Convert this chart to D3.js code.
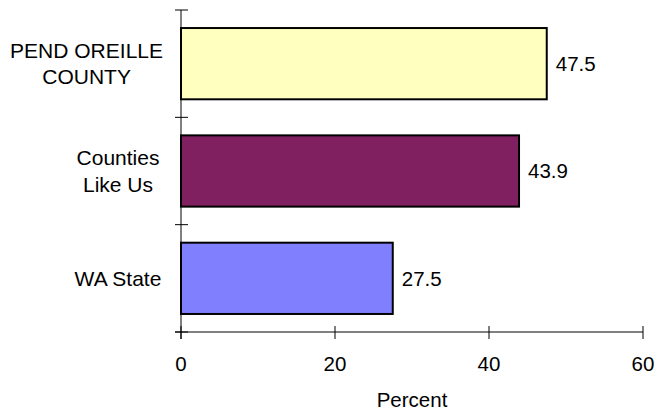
<!DOCTYPE html>
<html><head><meta charset="utf-8">
<script src="https://cdn.jsdelivr.net/npm/d3@7"></script>
<style>body{margin:0;background:#fff}svg{display:block}text{font-family:Arial,"Liberation Sans",sans-serif;fill:#000}</style>
</head><body>
<svg id="c" width="655" height="413"></svg>
<script>
const categories = [["PEND OREILLE","COUNTY"],["Counties","Like Us"],["WA State"]];
const values = [47.5, 43.9, 27.5];
const colors = ["#FFFFC0", "#802060", "#8080FF"];
const xTicks = [0, 20, 40, 60];
const xTitle = "Percent";

(function(){
const svg = d3.select("#c");
const pL = 181, pR = 643, pT = 10, pB = 332;
const x = d3.scaleLinear().domain([0, 60]).range([pL, pR]);
const keys = categories.map((c,i)=>i);
const y = d3.scaleBand().domain(keys).range([pT, pB]).paddingInner(0.336).paddingOuter(0.168);

// bars
svg.selectAll("rect.bar").data(values).enter().append("rect")
  .attr("x", x(0)).attr("y", (d,i)=>y(i))
  .attr("width", d=>x(d)-x(0)).attr("height", y.bandwidth())
  .attr("fill", (d,i)=>colors[i]).attr("stroke", "#000").attr("stroke-width", 2);

// x axis line
svg.append("line").attr("x1", pL-6).attr("x2", pR).attr("y1", pB).attr("y2", pB)
  .attr("stroke", "#808080").attr("stroke-width", 2);
// y axis line
svg.append("line").attr("x1", pL).attr("x2", pL).attr("y1", pT).attr("y2", pB+7)
  .attr("stroke", "#000").attr("stroke-width", 1);

// x ticks
const xt = svg.append("g");
xTicks.forEach(t=>{
  xt.append("line").attr("x1", x(t)).attr("x2", x(t)).attr("y1", pB-6).attr("y2", pB+7)
    .attr("stroke", "#000").attr("stroke-width", 1);
  xt.append("text").attr("x", x(t)).attr("y", 371).attr("text-anchor", "middle")
    .style("font-size", "20.5px").text(t);
});
// y ticks at band boundaries
const bounds = [pT].concat(keys.map(i => pT + (i+1)*(pB-pT)/keys.length));
bounds.forEach(b=>{
  svg.append("line").attr("x1", pL-6).attr("x2", pL+7).attr("y1", b).attr("y2", b)
    .attr("stroke", "#000").attr("stroke-width", 1);
});

// category labels
categories.forEach((lines,i)=>{
  const cy = y(i) + y.bandwidth()/2;
  const lh = 26.6;
  const g = svg.append("g");
  const texts = lines.map((l,j)=> g.append("text")
    .attr("y", cy + 7.3 + (j - (lines.length-1)/2)*lh)
    .attr("text-anchor","middle").style("font-size","21px").text(l));
  const w = d3.max(texts, t=>t.node().getComputedTextLength());
  const cx = Math.min(118, 163 - w/2);
  texts.forEach(t=>t.attr("x", cx));
});

// value labels
svg.selectAll("text.val").data(values).enter().append("text")
  .attr("x", d=>x(d)+9).attr("y", (d,i)=>y(i)+y.bandwidth()/2+7.3)
  .style("font-size","20.5px").text(d=>d.toFixed(1));

// x title
svg.append("text").attr("x", 412).attr("y", 407).attr("text-anchor","middle")
  .style("font-size","20.5px").text(xTitle);
})();
</script>
</body></html>
